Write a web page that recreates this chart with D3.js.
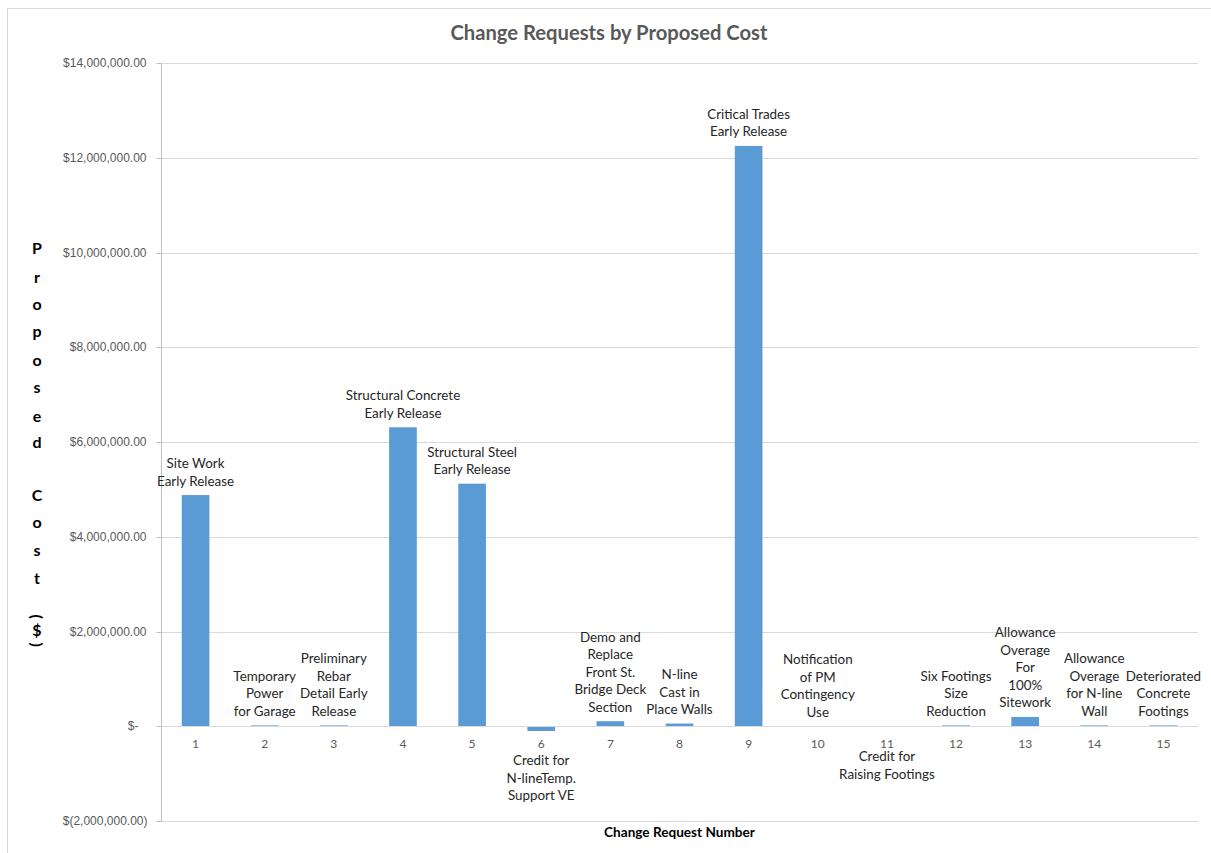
<!DOCTYPE html>
<html>
<head>
<meta charset="utf-8">
<script src="https://cdn.jsdelivr.net/npm/d3@7"></script>
<style>
  html, body { margin: 0; padding: 0; background: #fff; }
  svg { display: block; font-family: Lato, "Open Sans", sans-serif; }
</style>
</head>
<body>
<svg id="chart" width="1211" height="853"></svg>
<script>
// Change request numbers
const requestNumbers = [1, 2, 3, 4, 5, 6, 7, 8, 9, 10, 11, 12, 13, 14, 15];

// Proposed cost of each change request, in dollars
const proposedCost = [4880000, 18000, 18000, 6310000, 5120000, -100000, 106000, 57000,
                      12250000, 0, -8000, 18000, 196000, 18000, 18000];

// Short description shown beside each bar (line breaks as drawn)
const requestNames = [
  "Site Work\nEarly Release",
  "Temporary\nPower\nfor Garage",
  "Preliminary\nRebar\nDetail Early\nRelease",
  "Structural Concrete\nEarly Release",
  "Structural Steel\nEarly Release",
  "Credit for\nN-lineTemp.\nSupport VE",
  "Demo and\nReplace\nFront St.\nBridge Deck\nSection",
  "N-line\nCast in\nPlace Walls",
  "Critical Trades\nEarly Release",
  "Notification\nof PM\nContingency\nUse",
  "Credit for\nRaising Footings",
  "Six Footings\nSize\nReduction",
  "Allowance\nOverage\nFor\n100%\nSitework",
  "Allowance\nOverage\nfor N-line\nWall",
  "Deteriorated\nConcrete\nFootings"
];

// Value-axis ticks
const costTicks = [-2000000, 0, 2000000, 4000000, 6000000, 8000000, 10000000, 12000000, 14000000];

const chartTitle = "Change Requests by Proposed Cost";
const xTitle = "Change Request Number";
const yTitle = "Proposed Cost ($)";

const svg = d3.select("#chart");
const W = 1211, H = 853;
const plot = { left: 161, right: 1198, top: 63, bottom: 821 };

// Chart-area frame
svg.append("rect")
  .attr("x", 7.5).attr("y", 8.5)
  .attr("width", W + 10).attr("height", H + 10)
  .attr("fill", "#fff").attr("stroke", "#d9d9d9");

const x = d3.scaleBand()
  .domain(requestNumbers)
  .range([plot.left, plot.right])
  .paddingInner(0.6)
  .paddingOuter(0.3);

const y = d3.scaleLinear()
  .domain([-2000000, 14000000])
  .range([plot.bottom, plot.top]);

const fmtMoney = d3.format(",.2f");
function costLabel(v) {
  if (v === 0) return "$-";
  if (v < 0) return "$(" + fmtMoney(-v) + ")";
  return "$" + fmtMoney(v);
}

// Horizontal gridlines
svg.append("g")
  .selectAll("line")
  .data(costTicks)
  .join("line")
  .attr("x1", plot.left).attr("x2", plot.right)
  .attr("y1", d => Math.round(y(d)) + 0.5)
  .attr("y2", d => Math.round(y(d)) + 0.5)
  .attr("stroke", "#d9d9d9")
  .attr("stroke-width", 1);

// Value axis
const yAxis = d3.axisLeft(y)
  .tickValues(costTicks)
  .tickFormat(costLabel)
  .tickSize(5)
  .tickPadding(10);

const gy = svg.append("g")
  .attr("transform", `translate(${plot.left + 0.5},0)`)
  .call(yAxis);
gy.select(".domain").attr("stroke", "#bfbfbf").attr("d", `M0,${plot.top}V${plot.bottom + 0.5}`);
gy.selectAll(".tick line").attr("stroke", "#bfbfbf");
gy.selectAll(".tick text")
  .attr("fill", "#595959")
  .style("font-size", "12px")
  .attr("dx", d => d === 0 ? -8 : (d < 0 ? 1 : 0));
gy.selectAll(".tick").attr("transform", d => `translate(0,${Math.round(y(d)) + 0.5})`);

// Bars
svg.append("g")
  .selectAll("rect")
  .data(requestNumbers)
  .join("rect")
  .attr("x", d => x(d))
  .attr("width", x.bandwidth())
  .attr("y", (d, i) => y(Math.max(0, proposedCost[i])))
  .attr("height", (d, i) => Math.abs(y(proposedCost[i]) - y(0)))
  .attr("fill", "#5b9bd5");

// Category axis along zero
const zeroY = Math.round(y(0)) + 0.5;
svg.append("line")
  .attr("x1", plot.left).attr("x2", plot.right)
  .attr("y1", zeroY).attr("y2", zeroY)
  .attr("stroke", "#d9d9d9");

svg.append("g")
  .selectAll("text")
  .data(requestNumbers)
  .join("text")
  .attr("x", d => x(d) + x.bandwidth() / 2)
  .attr("y", zeroY + 21)
  .attr("text-anchor", "middle")
  .attr("fill", "#595959")
  .style("font-size", "12px")
  .text(d => d);

// Data labels: above positive bars, below negative ones
const lineH = 17.5;
svg.append("g")
  .selectAll("text")
  .data(requestNumbers)
  .join("text")
  .attr("text-anchor", "middle")
  .attr("fill", "#262626")
  .style("font-size", "13.4px")
  .each(function (d, i) {
    const lines = requestNames[i].split("\n");
    const v = proposedCost[i];
    const cx = x(d) + x.bandwidth() / 2;
    let firstY;
    if (v >= 0) {
      firstY = y(v) - 14 - (lines.length - 1) * lineH + 4.5;
    } else {
      firstY = y(v) + 30 + 4.5;
    }
    d3.select(this).selectAll("tspan")
      .data(lines)
      .join("tspan")
      .attr("x", cx)
      .attr("y", (t, k) => firstY + k * lineH)
      .text(t => t);
  });

// Chart title
svg.append("text")
  .attr("x", 609).attr("y", 40)
  .attr("text-anchor", "middle")
  .attr("fill", "#595959")
  .style("font-size", "20.2px")
  .style("font-weight", "bold")
  .text(chartTitle);

// Category axis title
svg.append("text")
  .attr("x", (plot.left + plot.right) / 2).attr("y", 837)
  .attr("text-anchor", "middle")
  .attr("fill", "#000")
  .style("font-size", "13.6px")
  .style("font-weight", "bold")
  .text(xTitle);

// Value axis title, stacked one character per line
const stackOffsets = [0, 29, 55.6, 82.3, 111.6, 139, 167.3, 194, 220.5, 246.6, 274, 301.6, 329.6, 350, 369, 381.5, 397];
const yTitleGroup = svg.append("g")
  .attr("fill", "#000")
  .style("font-size", "16px")
  .style("font-weight", "bold");
yTitle.split("").forEach((ch, k) => {
  if (ch === " ") return;
  const cy = 247.7 + stackOffsets[k];
  const t = yTitleGroup.append("text")
    .attr("text-anchor", "middle")
    .attr("dominant-baseline", "central")
    .text(ch);
  if (ch === "(" || ch === ")") {
    t.attr("transform", `translate(37,${cy}) rotate(90)`);
  } else {
    t.attr("transform", `translate(37,${cy})`);
  }
});
</script>
</body>
</html>
